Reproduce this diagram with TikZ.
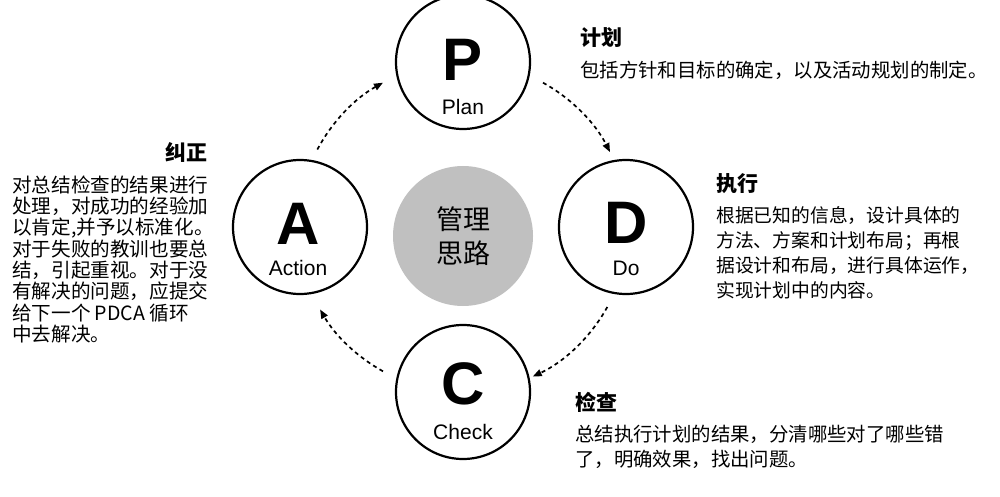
\documentclass[tikz,border=0pt]{standalone}
\usepackage{fontspec}
\setmainfont{Liberation Sans}
\newfontfamily\cjk{Noto Sans CJK SC}
\usetikzlibrary{arrows.meta}
\begin{document}
\begin{tikzpicture}[x=1pt,y=-1pt,
  stage/.style={circle,draw,line width=2.2pt,minimum size=134pt,inner sep=0pt},
  big/.style={font=\fontsize{60}{60}\selectfont\bfseries},
  sub/.style={font=\fontsize{21}{21}\selectfont},
  ttl/.style={anchor=west,inner sep=0pt,font=\cjk\fontsize{21}{21}\selectfont\bfseries},
  txt/.style={anchor=west,inner sep=0pt,font=\cjk\fontsize{#1}{#1}\selectfont},
  txt/.default=19,
  cyc/.style={line width=1.7pt,dash pattern=on 4pt off 3.5pt,-{Triangle[length=9pt,width=7pt]}}]
\useasboundingbox (0,0) rectangle (1000,497);
\node[stage] (P) at (463,62) {};
\node[stage] (D) at (626,227) {};
\node[stage] (C) at (463,392) {};
\node[stage] (A) at (300,227) {};
\node[circle,fill={rgb,255:red,192;green,192;blue,192},minimum size=140pt,inner sep=0pt,align=center,
  font=\cjk\fontsize{27}{34}\selectfont] (M) at (463,236) {管理\\思路};
\node[big] (Pl) at (463,60) {P}; \node[sub] (Ps) at (463,107) {Plan};
\node[big] (Dl) at (626,223) {D}; \node[sub] (Ds) at (626,268) {Do};
\node[big] (Cl) at (463,384) {C}; \node[sub] (Cs) at (463,432) {Check};
\node[big] (Al) at (298,224) {A}; \node[sub] (As) at (298,268) {Action};
\coordinate (O) at (463,227);
\draw[cyc] (O) ++(61:165 and -165) arc[start angle=61,end angle=27,x radius=165,y radius=-165];
\draw[cyc] (O) ++(-29:165 and -165) arc[start angle=-29,end angle=-65,x radius=165,y radius=-165];
\draw[cyc] (O) ++(-119:165 and -165) arc[start angle=-119,end angle=-150,x radius=165,y radius=-165];
\draw[cyc] (O) ++(152:165 and -165) arc[start angle=152,end angle=119,x radius=165,y radius=-165];
\node[ttl] (t1) at (580,38) {计划};
\node[txt=19.4] (p1) at (580,70) {包括方针和目标的确定，以及活动规划的制定。};
\node[ttl] (t2) at (716,184) {执行};
\node[txt=18.8] (d1) at (716,216) {根据已知的信息，设计具体的};
\node[txt=18.8] (d2) at (716,241) {方法、方案和计划布局；再根};
\node[txt=18.8] (d3) at (716,266) {据设计和布局，进行具体运作，};
\node[txt=18.8] (d4) at (716,290) {实现计划中的内容。};
\node[ttl] (t3) at (575,402) {检查};
\node[txt=19.4] (c1) at (575,434) {总结执行计划的结果，分清哪些对了哪些错};
\node[txt=19.4] (c2) at (575,459) {了，明确效果，找出问题。};
\node[ttl] (t4) at (165,152) {纠正};
\foreach \i/\s in {0/{对总结检查的结果进行},1/{处理，对成功的经验加},2/{以肯定,并予以标准化。},3/{对于失败的教训也要总},4/{结，引起重视。对于没},5/{有解决的问题，应提交},6/{给下一个 PDCA 循环},7/{中去解决。}}
  \node[txt=19.6] (a\i) at (12,185+21.3*\i) {\s};
\end{tikzpicture}
\end{document}
